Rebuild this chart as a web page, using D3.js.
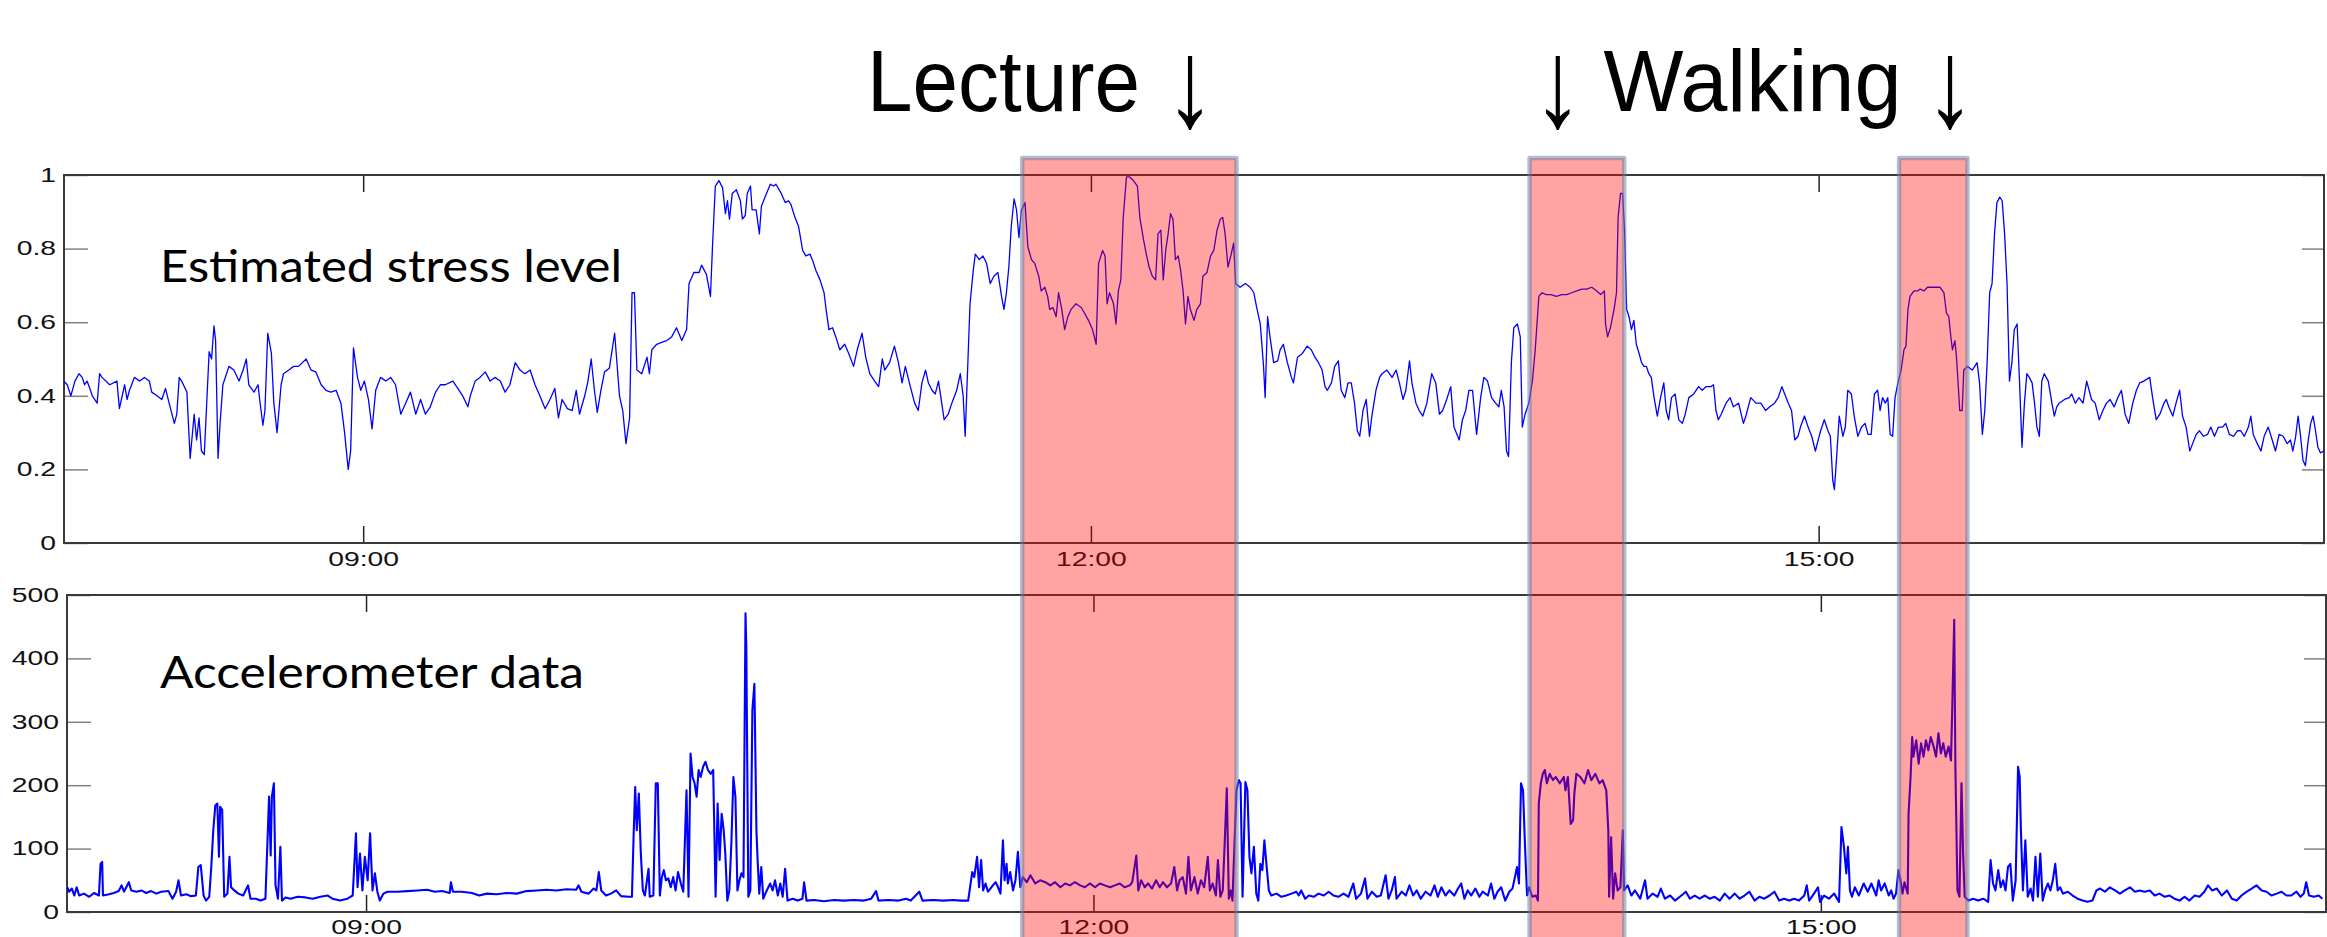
<!DOCTYPE html>
<meta charset="utf-8">
<script src="https://d3js.org/d3.v7.min.js"></script>
<style>
body { margin: 0; background-color: white; }
</style>
<div id="my_dataviz"></div>
<script>
// all times are minutes after midnight
var timeDomain = [466, 1025];
var timeTicks = [540, 720, 900];
var timeTickLabels = ["09:00", "12:00", "15:00"];

var stressTicks = [0, 0.2, 0.4, 0.6, 0.8, 1];
var stressTickLabels = ["0", "0.2", "0.4", "0.6", "0.8", "1"];
var accelTicks = [0, 100, 200, 300, 400, 500];
var accelTickLabels = ["0", "100", "200", "300", "400", "500"];

// shaded episodes (lecture, walking, walking)
var episodeStart = [703.0, 828.5, 919.9];
var episodeEnd = [756.0, 851.9, 936.8];

var panelTitles = ["Estimated stress level", "Accelerometer data"];

// [minute, estimated stress]
var stressSeries = [
[466.0,.44],[466.8,.43],[467.7,.40],[468.7,.44],[469.7,.46],[470.5,.45],[471.1,.43],[471.7,.44],[472.4,.42],[473.0,.40],[474.2,.38],[474.8,.46],[475.4,.45],[477.3,.43],[479.1,.44],[479.7,.365],[481.0,.43],[481.6,.39],[482.2,.415],[483.4,.45],[484.7,.44],[485.9,.45],[487.1,.44],[487.7,.41],[489.0,.40],[490.2,.39],[491.1,.42],[492.0,.38],[492.7,.35],[493.3,.325],[493.9,.35],[494.5,.45],[495.1,.44],[496.4,.41],[497.2,.23],[498.2,.35],[498.8,.28],[499.4,.34],[500.0,.25],[500.7,.24],[501.3,.38],[501.9,.52],[502.5,.50],[503.1,.59],[503.5,.55],[504.1,.23],[504.6,.325],[505.3,.43],[506.2,.46],[506.8,.48],[508.0,.47],[509.3,.44],[510.3,.47],[511.1,.50],[511.7,.43],[513.0,.41],[514.0,.43],[514.4,.39],[515.2,.32],[515.7,.36],[516.4,.57],[517.3,.515],[517.9,.38],[518.7,.30],[519.7,.43],[520.3,.46],[521.6,.47],[522.8,.48],[524.0,.48],[525.9,.50],[527.1,.47],[528.3,.465],[529.6,.43],[530.8,.415],[532.0,.41],[533.3,.415],[534.5,.38],[535.4,.30],[536.3,.20],[536.9,.25],[537.6,.53],[538.6,.45],[539.4,.415],[540.3,.44],[541.3,.39],[542.2,.31],[543.1,.415],[544.3,.45],[545.6,.44],[546.8,.45],[548.0,.43],[549.3,.35],[550.5,.38],[551.7,.41],[553.0,.35],[554.2,.39],[555.4,.35],[556.6,.37],[557.9,.41],[559.1,.43],[560.3,.43],[562.2,.44],[563.4,.42],[564.6,.40],[565.9,.37],[566.5,.40],[567.7,.44],[568.9,.45],[570.2,.465],[571.4,.44],[572.6,.45],[573.9,.44],[575.1,.41],[576.3,.43],[577.6,.49],[578.8,.47],[580.0,.46],[581.3,.47],[582.5,.43],[583.7,.40],[585.0,.365],[586.2,.39],[587.4,.42],[588.3,.34],[589.2,.39],[590.5,.365],[591.7,.36],[592.7,.415],[593.5,.35],[594.8,.40],[595.6,.44],[596.4,.50],[597.2,.415],[597.9,.355],[598.8,.415],[599.7,.465],[600.9,.475],[602.2,.57],[603.4,.40],[604.2,.36],[605.0,.27],[605.9,.34],[606.5,.68],[607.1,.68],[607.7,.47],[608.9,.46],[610.2,.505],[610.8,.46],[611.4,.525],[612.6,.54],[613.8,.545],[615.1,.55],[616.3,.56],[617.5,.585],[618.8,.55],[620.0,.58],[620.6,.705],[621.8,.735],[623.1,.735],[623.7,.755],[624.9,.73],[625.9,.67],[626.4,.805],[627.1,.97],[628.0,.985],[628.9,.965],[629.6,.895],[630.1,.93],[630.6,.88],[631.3,.95],[632.3,.96],[633.3,.93],[633.8,.88],[634.5,.89],[635.0,.95],[635.8,.97],[636.2,.905],[637.2,.905],[638.0,.84],[638.5,.915],[639.4,.94],[640.7,.975],[641.5,.97],[642.1,.975],[643.4,.95],[644.4,.925],[645.2,.93],[645.8,.92],[646.8,.885],[647.7,.86],
[648.7,.795],[649.5,.78],[650.5,.785],[651.1,.77],[652.0,.74],[653.0,.715],[654.0,.68],[654.5,.635],[655.2,.58],[656.1,.585],[656.9,.56],[657.9,.525],[659.1,.54],[660.1,.515],[661.3,.48],[662.2,.525],[663.4,.57],[664.3,.505],[665.3,.46],[666.5,.44],[667.5,.425],[668.4,.50],[669.0,.47],[670.2,.49],[671.4,.535],[672.4,.49],[673.3,.435],[674.1,.48],[675.1,.435],[676.4,.38],[677.3,.36],[678.2,.435],[679.1,.47],[679.8,.435],[680.7,.415],[681.5,.405],[682.3,.44],[683.1,.38],[683.7,.335],[684.7,.35],[685.6,.38],[686.8,.415],[687.7,.46],[688.4,.40],[688.9,.29],[689.6,.50],[690.1,.65],[690.9,.74],[691.4,.785],[692.4,.77],[693.3,.78],[694.2,.76],[695.1,.705],[696.0,.725],[697.0,.735],[697.9,.67],[698.5,.635],[699.1,.68],[699.7,.75],[700.3,.86],[701.0,.935],[701.6,.905],[702.2,.83],[702.8,.905],[703.7,.925],[704.4,.805],[705.3,.77],[706.1,.76],[707.1,.725],[707.7,.685],[708.6,.695],[709.3,.67],[709.8,.635],[710.6,.64],[711.4,.615],[712.0,.68],[712.8,.635],[713.5,.58],[714.3,.615],[715.1,.635],[716.3,.65],[717.6,.64],[718.4,.625],[719.4,.605],[720.4,.58],[721.3,.54],[721.9,.76],[722.9,.795],[723.5,.78],[724.0,.65],[724.6,.68],[725.6,.65],[726.2,.595],[726.8,.685],[727.4,.715],[728.0,.885],[728.8,.995],[729.5,.995],[730.5,.985],[731.5,.97],[732.1,.885],[733.0,.825],[733.7,.785],[734.4,.75],[735.2,.725],[736.0,.715],[736.6,.84],[737.3,.85],[737.9,.715],[738.5,.795],[739.1,.84],[739.7,.895],[740.3,.88],[740.9,.77],[741.6,.78],[742.2,.74],[742.8,.685],[743.4,.595],[744.0,.67],[744.6,.635],[745.5,.605],[746.2,.635],[747.1,.65],[747.7,.725],[748.7,.735],[749.6,.78],[750.4,.795],[751.2,.85],[752.0,.88],[752.6,.885],[753.2,.84],[753.9,.75],[754.6,.78],[755.3,.815],[755.8,.705],[756.9,.695],[758.2,.705],[759.4,.695],[760.3,.68],[761.0,.64],[761.9,.595],[762.7,.48],[763.1,.395],[763.7,.615],[764.3,.56],[765.2,.49],[766.2,.495],[766.8,.525],[767.6,.54],[768.6,.49],[769.6,.45],[770.1,.435],[771.1,.505],[772.3,.515],[773.5,.535],[774.5,.525],[775.4,.505],[776.3,.49],[777.2,.47],[777.9,.425],[778.5,.415],[779.5,.435],[780.3,.48],[781.2,.495],[781.9,.415],[782.8,.395],[783.6,.435],[784.4,.435],[785.2,.38],[785.9,.305],[786.5,.29],[787.3,.36],[788.1,.39],[788.9,.29],[789.5,.345],[790.5,.415],[791.4,.45],[792.0,.46],[793.2,.47],[794.5,.45],[795.5,.47],[796.3,.435],[797.2,.39],[797.9,.415],[798.8,.495],[799.4,.435],[800.4,.38],[801.2,.36],[802.1,.345],[803.1,.38],[804.3,.46],[805.3,.435],[806.2,.35],[807.0,.36],[808.0,.39],[809.0,.425],[809.8,.315],[811.1,.28],[811.9,.335],[812.7,.36],[813.5,.415],[814.4,.415],[815.4,.295],[816.4,.395],[817.2,.45],[818.1,.44],[819.1,.395],[820.1,.38],[820.9,.37],[821.5,.415],[822.2,.37],[822.8,.25],[823.3,.235],[824.0,.49],[824.6,.585],[825.5,.595],[826.2,.56],[826.7,.315],[827.4,.35],[828.3,.38],[829.2,.44],[829.9,.525],[830.8,.67],[831.6,.68],[832.6,.675],[833.8,.675],[835.1,.67],
[836.5,.675],[837.7,.675],[838.9,.68],[840.2,.685],[841.4,.69],[842.6,.69],[843.9,.695],[845.1,.685],[846.1,.675],[847.0,.685],[847.3,.595],[847.8,.56],[848.5,.585],[849.4,.635],[850.0,.68],[850.4,.885],[851.0,.95],[851.5,.95],[852.0,.85],[852.5,.635],[853.1,.615],[853.7,.58],[854.3,.605],[854.9,.54],[855.6,.515],[856.2,.49],[856.8,.48],[857.4,.48],[858.0,.46],[858.6,.45],[859.3,.395],[860.1,.345],[860.9,.395],[861.7,.435],[862.3,.36],[862.9,.335],[863.6,.395],[864.5,.405],[865.4,.335],[866.3,.325],[867.0,.35],[867.9,.395],[869.1,.405],[870.3,.425],[871.2,.415],[872.2,.425],[873.4,.425],[874.0,.43],[874.6,.36],[875.2,.335],[875.9,.35],[877.1,.38],[878.1,.395],[878.9,.37],[880.2,.38],[881.4,.325],[882.0,.345],[883.2,.395],[884.5,.38],[885.7,.38],[886.9,.36],[887.9,.37],[889.1,.38],[890.0,.395],[890.9,.425],[891.6,.405],[892.5,.38],[893.3,.36],[894.1,.28],[894.9,.29],[895.5,.315],[896.5,.345],[897.4,.315],[898.3,.29],[899.2,.25],[899.9,.28],[900.5,.305],[901.4,.335],[902.3,.305],[902.9,.29],[903.5,.17],[903.9,.145],[904.4,.225],[905.1,.345],[906.0,.29],[906.6,.315],[907.2,.415],[908.1,.405],[908.8,.345],[909.7,.29],[910.6,.315],[911.5,.325],[912.2,.295],[913.0,.295],[913.8,.405],[914.6,.415],[915.2,.36],[915.8,.395],[916.5,.38],[917.1,.395],[917.7,.295],[918.3,.29],[918.9,.395],[919.7,.44],[920.4,.47],[921.1,.525],[921.6,.535],[922.1,.635],[922.6,.67],[923.6,.685],[924.5,.685],[925.1,.69],[926.1,.685],[926.9,.695],[927.8,.695],[928.8,.695],[930.0,.695],[931.0,.68],[931.6,.625],[932.2,.615],[932.7,.56],[933.1,.525],[933.7,.55],[934.1,.505],[934.5,.435],[934.9,.36],[935.5,.36],[935.9,.47],[936.8,.48],[938.0,.47],[939.2,.49],[939.8,.435],[940.5,.295],[941.1,.36],[941.7,.495],[942.3,.68],[942.9,.705],[943.5,.84],[944.1,.925],[944.8,.94],[945.4,.93],[946.0,.84],[946.6,.705],[947.2,.44],[947.8,.49],[948.4,.58],[949.1,.595],[949.7,.435],[950.3,.26],[950.9,.38],[951.5,.46],[952.1,.45],[952.8,.435],[953.4,.38],[954.0,.315],[954.6,.29],[955.2,.44],[955.8,.46],[956.8,.44],[957.7,.38],[958.3,.345],[958.9,.37],[959.5,.38],[960.8,.39],[962.0,.395],[962.6,.405],[963.5,.38],[964.4,.395],[965.4,.38],[966.3,.44],[966.9,.415],[967.5,.39],[968.4,.38],[969.4,.335],[970.3,.36],[971.2,.38],[972.1,.39],[973.1,.37],[974.0,.395],[974.9,.415],[975.8,.35],[976.7,.325],[977.7,.38],[978.6,.415],[979.4,.435],[980.4,.44],[981.9,.45],[982.6,.395],[983.5,.335],[984.4,.35],[985.4,.38],[986.0,.39],[986.6,.37],[987.6,.345],[988.4,.38],[989.3,.415],[990.0,.345],[990.9,.315],[991.8,.25],[992.5,.27],[993.4,.295],[994.2,.305],[995.2,.29],[996.2,.295],[997.0,.315],[997.9,.29],[998.9,.315],[999.9,.315],[1000.7,.325],[1001.6,.295],[1002.6,.29],[1003.6,.305],[1004.4,.305],[1005.3,.29],[1006.3,.315],[1006.9,.345],[1007.5,.295],[1008.5,.27],[1009.4,.25],[1010.2,.29],[1011.2,.315],[1012.2,.28],[1013.0,.25],[1013.9,.295],[1014.9,.29],[1015.9,.27],[1016.7,.28],[1017.3,.25],[1018.0,.29],[1018.6,.345],[1019.2,.29],[1019.8,.225],[1020.4,.21],[1021.0,.27],[1021.7,.325],[1022.3,.345],[1022.9,.305],[1023.5,.26],[1024.1,.245],[1025.0,.25]
];

// [minute, accelerometer magnitude]
var accelSeries = [
[466.1,39],[466.5,32],[467.2,37],[467.8,26],[468.4,39],[469.0,26],[470.2,29],[471.5,24],[472.7,30],[473.9,26],[474.3,76],[474.7,79],[474.9,26],[476.4,28],[477.6,30],[478.8,33],[479.5,42],[480.1,32],[481.3,47],[481.9,34],[483.2,32],[484.4,34],[485.6,30],[486.8,33],[488.1,29],[489.3,32],[491.1,33],[492.1,21],[493.0,32],[493.6,50],[494.2,26],[495.5,28],[496.7,25],[497.9,26],[498.5,71],[499.1,74],[499.8,26],[500.4,18],[501.2,24],[501.7,71],[502.2,129],[502.7,168],[503.2,171],[503.6,87],[503.9,166],[504.4,161],[504.9,24],[505.7,29],[506.2,87],[506.6,39],[507.4,34],[508.4,29],[509.6,26],[510.8,42],[511.4,21],[512.7,21],[513.9,18],[515.1,21],[516.0,182],[516.4,89],[516.7,182],[517.2,203],[517.6,42],[518.2,21],[518.8,103],[519.2,18],[520.1,23],[521.3,21],[523.1,24],[525.0,23],[526.8,21],[528.7,24],[530.5,26],[531.7,21],[533.6,18],[535.4,21],[536.7,26],[537.5,124],[537.9,39],[538.5,92],[539.1,34],[539.7,87],[540.4,50],[541.0,124],[541.6,34],[542.2,61],[542.8,32],[543.4,18],[544.3,29],[545.3,32],[547.7,32],[550.2,33],[552.7,34],[555.1,35],[557.0,32],[558.8,33],[560.7,30],[561.0,47],[561.5,32],[563.7,32],[566.2,30],[568.0,26],[569.9,29],[572.3,28],[574.8,30],[577.3,29],[579.7,33],[582.2,34],[584.7,35],[587.1,34],[589.6,36],[592.0,35],[592.6,42],[593.3,32],[595.1,29],[596.3,37],[597.0,34],[597.6,63],[598.2,34],[599.4,26],[600.6,29],[601.9,34],[603.1,25],[605.0,24],[605.8,24],[606.2,118],[606.6,197],[607.0,129],[607.5,187],[608.0,92],[608.5,34],[609.0,26],[609.9,68],[610.2,24],[611.1,26],[611.7,203],[612.2,203],[612.7,26],[613.2,55],[613.7,66],[614.2,50],[614.8,53],[615.4,39],[616.0,55],[616.6,34],[617.2,63],[617.9,45],[618.5,32],[619.3,192],[619.8,24],[620.3,250],[620.8,213],[621.3,203],[621.8,182],[622.3,224],[622.8,213],[623.4,229],[624.0,237],[624.6,224],[625.3,218],[625.9,224],[626.5,24],[627.0,171],[627.5,82],[628.0,155],[628.5,129],[628.9,92],[629.4,18],[629.9,34],[630.4,108],[630.9,213],[631.4,182],[631.9,34],[632.4,50],[632.9,61],[633.4,55],[633.9,471],[634.1,418],[634.6,24],[635.1,34],[635.6,318],[636.1,360],[636.6,129],[636.9,82],[637.3,29],[637.8,71],[638.3,21],[638.8,29],[640.0,45],[640.6,34],[641.2,50],[641.9,26],[642.5,45],[643.1,24],[643.7,68],[644.3,18],[645.6,21],[646.8,18],[648.0,21],
[648.4,47],[649.0,18],[650.9,19],[653.3,17],[655.8,19],[658.2,18],[660.7,19],[663.2,18],[665.0,21],[666.2,33],[666.8,18],[669.3,19],[671.8,18],[673.6,21],[674.8,18],[676.9,32],[677.7,18],[680.4,19],[682.8,18],[685.3,19],[687.1,18],[689.0,18],[690.0,63],[690.5,55],[691.2,87],[691.7,39],[692.2,82],[692.7,34],[693.3,45],[693.9,32],[694.5,37],[695.1,42],[695.8,47],[696.4,39],[697.0,29],[697.6,113],[698.0,50],[698.5,76],[698.8,45],[699.4,63],[700.1,34],[700.7,50],[701.3,95],[701.9,39],[702.5,55],[703.5,47],[704.4,58],[705.6,45],[706.8,50],[708.1,47],[709.3,42],[710.5,47],[711.8,39],[713.0,45],[714.2,42],[715.4,47],[716.7,42],[717.9,39],[719.1,45],[720.4,39],[721.6,45],[722.8,42],[724.1,39],[725.3,42],[726.5,45],[727.7,39],[729.0,42],[729.6,47],[730.6,89],[731.1,34],[731.8,50],[732.7,39],[733.5,45],[734.5,37],[735.5,50],[736.4,39],[737.2,47],[738.2,39],[739.2,45],[740.0,71],[740.7,34],[741.3,50],[742.1,55],[742.9,29],[743.5,87],[744.1,34],[745.0,55],[745.8,29],[746.6,50],[747.4,39],[748.3,87],[748.8,34],[749.5,45],[750.3,26],[750.8,82],[751.4,24],[752.0,34],[752.5,113],[753.0,195],[753.5,21],[754.0,34],[754.4,18],[754.9,108],[755.4,192],[756.0,208],[756.4,203],[756.9,24],[757.6,205],[758.1,192],[758.6,87],[759.1,61],[759.7,103],[760.3,29],[760.8,18],[761.3,76],[761.8,66],[762.3,113],[762.8,76],[763.4,34],[764.0,26],[765.3,29],[766.5,24],[767.7,26],[769.0,29],[770.2,32],[770.8,26],[771.4,34],[772.4,21],[773.3,26],[774.5,24],[775.7,29],[777.0,26],[778.2,32],[779.4,26],[780.6,24],[781.9,29],[783.1,24],[784.3,45],[785.0,21],[786.2,29],[787.2,53],[787.8,21],[788.9,32],[790.1,24],[791.1,26],[792.3,58],[793.0,21],[793.8,34],[794.6,55],[795.0,21],[796.3,32],[797.3,26],[798.2,42],[799.1,26],[800.0,34],[801.0,21],[802.2,32],[803.4,26],[804.4,42],[805.2,24],[806.1,39],[807.1,26],[808.1,34],[809.3,26],[810.2,37],[811.0,45],[811.8,21],[812.6,34],[813.5,26],[814.5,37],[815.5,24],[816.3,32],[817.6,26],[818.4,45],[819.2,21],[820.0,32],[820.9,39],[821.9,18],[822.9,32],[823.7,37],[824.3,55],[824.8,71],[825.3,45],[825.8,203],[826.3,192],[826.8,103],[827.3,26],[827.8,39],[828.6,24],[829.5,26],[830.0,18],[830.2,171],[830.7,203],[831.2,218],[831.7,224],[832.2,203],[832.9,218],[833.7,208],[834.4,213],[835.4,203],[836.4,213],
[836.8,192],[837.4,213],[837.8,171],[838.1,139],[838.7,145],[839.0,187],[839.5,218],[840.5,213],[841.5,203],[842.4,224],[843.2,208],[844.2,218],[845.2,203],[846.0,208],[846.9,192],[847.4,129],[847.6,24],[848.1,118],[848.6,21],[849.1,61],[849.7,34],[850.4,39],[851.0,129],[851.3,34],[852.2,42],[853.1,26],[854.0,34],[855.3,21],[856.5,50],[857.1,21],[858.4,29],[859.6,24],[860.4,37],[861.4,21],[862.7,26],[863.9,18],[865.1,24],[866.6,32],[867.6,21],[868.8,26],[870.0,21],[871.3,26],[872.5,21],[873.7,24],[875.0,18],[876.2,29],[877.4,21],[878.7,29],[879.9,21],[881.1,26],[882.3,32],[883.6,18],[884.8,24],[886.0,21],[887.3,26],[888.5,32],[889.7,18],[890.9,21],[892.2,18],[893.4,21],[894.6,18],[895.9,26],[896.5,42],[897.1,18],[898.3,29],[899.3,39],[899.8,16],[900.8,26],[902.0,21],[903.3,29],[904.5,16],[905.1,134],[905.7,103],[906.3,61],[906.7,103],[907.2,34],[907.7,24],[908.4,39],[909.4,26],[910.6,45],[911.6,32],[912.5,45],[913.7,26],[914.3,50],[914.9,34],[915.8,45],[916.8,26],[917.4,34],[918.0,21],[918.6,29],[919.2,66],[919.7,50],[920.2,29],[920.7,47],[921.5,29],[921.7,155],[922.2,213],[922.6,276],[922.9,245],[923.6,271],[924.2,234],[924.8,266],[925.4,245],[926.0,271],[926.6,255],[927.2,276],[927.9,261],[928.5,245],[929.1,282],[929.7,250],[930.3,266],[930.9,245],[931.6,261],[932.2,239],[932.5,318],[933.0,461],[933.3,224],[933.8,34],[934.3,24],[934.8,203],[935.2,92],[935.6,24],[936.5,18],[937.7,21],[938.9,18],[940.2,21],[941.4,16],[942.0,82],[942.6,45],[943.2,34],[943.9,66],[944.5,39],[945.1,50],[945.7,34],[946.3,71],[946.9,76],[947.5,18],[948.2,50],[948.8,229],[949.2,213],[949.5,129],[950.0,34],[950.6,113],[951.2,24],[951.9,37],[952.5,18],[953.1,87],[953.7,24],[954.3,92],[954.9,18],[955.5,34],[956.2,45],[956.8,34],[957.4,50],[958.0,76],[958.6,34],[959.2,39],[959.9,29],[961.1,32],[962.3,26],[963.5,21],[964.8,18],[966.0,16],[967.2,18],[968.2,34],[969.1,37],[970.3,32],[971.5,39],[972.8,34],[974.0,29],[975.2,34],[976.5,39],[977.7,32],[978.9,34],[980.1,32],[981.4,34],[982.6,26],[983.8,29],[985.1,24],[986.3,26],[987.5,21],[988.8,18],[990.0,24],[991.2,18],[992.5,26],[993.7,24],[994.9,32],[995.8,42],[996.8,34],[998.0,37],[999.2,26],[1000.5,34],[1001.7,21],[1002.9,18],[1004.1,26],[1005.4,32],[1006.6,37],[1007.8,42],[1009.1,34],[1010.3,32],[1011.5,26],[1012.8,29],[1014.0,32],[1015.2,26],[1016.4,26],[1017.7,32],[1018.7,24],[1019.5,29],[1020.1,47],[1020.8,26],[1022.0,24],[1023.2,26],[1024.1,21]
];

var width = 2327, height = 937;

var svg = d3.select("#my_dataviz")
  .append("svg")
    .attr("width", width)
    .attr("height", height);

svg.append("rect")
  .attr("width", "100%")
  .attr("height", "100%")
  .attr("fill", "white");

var panels = [
  {left: 64, right: 2324, top: 175, bottom: 543, domain: [0, 1],
   ticks: stressTicks, labels: stressTickLabels, data: stressSeries, lw: 1.3, pad: 9,
   title: panelTitles[0], titleX: 160, titleY: 282, titleW: 462},
  {left: 67, right: 2326, top: 595, bottom: 912, domain: [0, 500],
   ticks: accelTicks, labels: accelTickLabels, data: accelSeries, lw: 2.1, pad: 8,
   title: panelTitles[1], titleX: 160, titleY: 688, titleW: 424}
];

// matlab labels are stretched sideways
function stretch(sel) {
  sel.selectAll("text").each(function() {
    var w = this.getComputedTextLength();
    d3.select(this).attr("textLength", w * 1.45).attr("lengthAdjust", "spacingAndGlyphs");
  });
}

function styleAxis(g, col) {
  g.select(".domain").remove();
  g.attr("font-family", "'Liberation Sans', Arial, sans-serif")
   .attr("font-size", 19.5);
  g.selectAll(".tick line").attr("stroke", col).attr("stroke-width", 1.5);
  g.selectAll(".tick text").attr("fill", "#111");
}

var xTop;

panels.forEach(function(p, k) {
  var x = d3.scaleLinear().domain(timeDomain).range([p.left, p.right]);
  var y = d3.scaleLinear().domain(p.domain).range([p.bottom, p.top]);
  if (k === 0) xTop = x;

  var g = svg.append("g");

  var yl = g.append("g")
    .attr("transform", "translate(" + p.left + ",0)")
    .call(d3.axisLeft(y).tickValues(p.ticks)
      .tickFormat(function(d, i) { return p.labels[i]; })
      .tickSize(-24).tickPadding(8));
  styleAxis(yl, "#808080");
  stretch(yl);

  var yr = g.append("g")
    .attr("transform", "translate(" + p.right + ",0)")
    .call(d3.axisRight(y).tickValues(p.ticks).tickFormat("").tickSize(-22));
  styleAxis(yr, "#808080");

  var xb = g.append("g")
    .attr("transform", "translate(0," + p.bottom + ")")
    .call(d3.axisBottom(x).tickValues(timeTicks)
      .tickFormat(function(d, i) { return timeTickLabels[i]; })
      .tickSize(-17).tickPadding(p.pad));
  styleAxis(xb, "#222");
  stretch(xb);

  var xt = g.append("g")
    .attr("transform", "translate(0," + p.top + ")")
    .call(d3.axisTop(x).tickValues(timeTicks).tickFormat("").tickSize(-17));
  styleAxis(xt, "#222");

  g.append("rect")
    .attr("x", p.left).attr("y", p.top)
    .attr("width", p.right - p.left).attr("height", p.bottom - p.top)
    .attr("fill", "none")
    .attr("stroke", "#3a3a3a")
    .attr("stroke-width", 2);

  g.append("path")
    .datum(p.data)
    .attr("fill", "none")
    .attr("stroke", "#0000ff")
    .attr("stroke-width", p.lw)
    .attr("stroke-linejoin", "round")
    .attr("d", d3.line()
      .x(function(d) { return x(d[0]); })
      .y(function(d) { return y(d[1]); }));

  g.append("text")
    .attr("x", p.titleX).attr("y", p.titleY)
    .attr("font-family", "Lato, 'Open Sans', sans-serif")
    .attr("font-size", 45)
    .attr("textLength", p.titleW)
    .attr("lengthAdjust", "spacingAndGlyphs")
    .attr("fill", "black")
    .text(p.title);
});

// shaded episodes over both panels
svg.append("g")
  .selectAll("rect")
  .data(episodeStart)
  .enter()
  .append("rect")
    .attr("x", function(d) { return xTop(d); })
    .attr("y", 158)
    .attr("width", function(d, i) { return xTop(episodeEnd[i]) - xTop(d); })
    .attr("height", 800)
    .attr("fill", "rgba(255,0,0,0.36)")
    .attr("stroke", "rgba(100,125,165,0.5)")
    .attr("stroke-width", 4.5)
    .attr("stroke-linejoin", "round");

// annotations above
var ann = svg.append("g")
  .attr("font-family", "'Liberation Sans', Arial, sans-serif")
  .attr("font-size", 87)
  .attr("fill", "black");

ann.append("text").attr("x", 867).attr("y", 111)
  .attr("textLength", 273).attr("lengthAdjust", "spacingAndGlyphs")
  .text("Lecture");
ann.append("text").attr("x", 1603.5).attr("y", 111)
  .attr("textLength", 298).attr("lengthAdjust", "spacingAndGlyphs")
  .text("Walking");

// long thin arrows
var arrowX = [1190, 1557.7, 1950];
ann.selectAll(".arr")
  .data(arrowX)
  .enter()
  .append("g")
    .attr("class", "arr")
    .attr("transform", function(d) { return "translate(" + d + ",126) scale(0.8,1)"; })
  .append("text")
    .attr("font-size", 125)
    .attr("text-anchor", "middle")
    .text("\u2193");
</script>
